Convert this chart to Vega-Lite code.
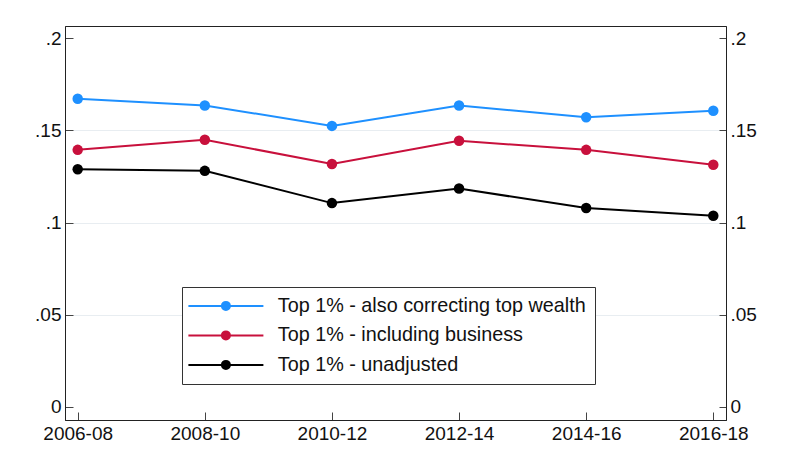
{
  "$schema": "https://vega.github.io/schema/vega-lite/v6.json",
  "width": 661,
  "height": 394,
  "autosize": "none",
  "padding": {"left": 65, "top": 26, "right": 67, "bottom": 32},
  "background": "white",
  "data": {
    "values": [
      {"period": "2006-08", "series": "Top 1% - also correcting top wealth", "share": 0.1672},
      {"period": "2008-10", "series": "Top 1% - also correcting top wealth", "share": 0.1636},
      {"period": "2010-12", "series": "Top 1% - also correcting top wealth", "share": 0.1525},
      {"period": "2012-14", "series": "Top 1% - also correcting top wealth", "share": 0.1636},
      {"period": "2014-16", "series": "Top 1% - also correcting top wealth", "share": 0.1572},
      {"period": "2016-18", "series": "Top 1% - also correcting top wealth", "share": 0.1607},
      {"period": "2006-08", "series": "Top 1% - including business", "share": 0.1395},
      {"period": "2008-10", "series": "Top 1% - including business", "share": 0.1450},
      {"period": "2010-12", "series": "Top 1% - including business", "share": 0.1318},
      {"period": "2012-14", "series": "Top 1% - including business", "share": 0.1444},
      {"period": "2014-16", "series": "Top 1% - including business", "share": 0.1395},
      {"period": "2016-18", "series": "Top 1% - including business", "share": 0.1314},
      {"period": "2006-08", "series": "Top 1% - unadjusted", "share": 0.1290},
      {"period": "2008-10", "series": "Top 1% - unadjusted", "share": 0.1281},
      {"period": "2010-12", "series": "Top 1% - unadjusted", "share": 0.1106},
      {"period": "2012-14", "series": "Top 1% - unadjusted", "share": 0.1185},
      {"period": "2014-16", "series": "Top 1% - unadjusted", "share": 0.1079},
      {"period": "2016-18", "series": "Top 1% - unadjusted", "share": 0.1037}
    ]
  },
  "layer": [
    {
      "mark": {"type": "line", "strokeWidth": 2, "point": {"filled": true, "size": 110, "opacity": 1}},
      "encoding": {
        "x": {
          "field": "period", "type": "ordinal", "title": null,
          "scale": {"type": "point", "padding": 0.1},
          "axis": {"labelAngle": 0, "tickSize": -8, "labelPadding": 12, "grid": false}
        },
        "y": {
          "field": "share", "type": "quantitative", "title": null,
          "scale": {"domain": [-0.0071, 0.2067], "nice": false, "zero": false},
          "axis": {
            "orient": "left", "values": [0, 0.05, 0.1, 0.15, 0.2],
            "labelExpr": "datum.value == 0 ? '0' : substring(format(datum.value, '~g'), 1)",
            "tickSize": -8, "labelPadding": 12, "grid": true,
            "gridOpacity": {"condition": {"test": "datum.value === 0 || datum.value === 0.2", "value": 0}, "value": 1}
          }
        },
        "color": {
          "field": "series", "type": "nominal", "title": null,
          "scale": {
            "domain": ["Top 1% - also correcting top wealth", "Top 1% - including business", "Top 1% - unadjusted"],
            "range": ["#1e90ff", "#c8103c", "#000000"]
          },
          "legend": {
            "orient": "none", "legendX": 117, "legendY": 261,
            "symbolType": "M-7.5,0L7.5,0M0.8,0A0.8,0.8,0,1,1,-0.8,0A0.8,0.8,0,1,1,0.8,0Z",
            "symbolSize": 100, "symbolStrokeWidth": 2, "symbolOffset": 25,
            "labelOffset": 42, "rowPadding": 8.5, "padding": 9,
            "labelExpr": "datum.label + '\u2003'",
            "fillColor": "white", "strokeColor": "#333333",
            "encode": {
              "symbols": {"update": {"fill": {"scale": "color", "field": "value"}, "stroke": {"scale": "color", "field": "value"}, "opacity": {"value": 1}}}
            }
          }
        }
      }
    },
    {
      "mark": {"type": "line", "strokeOpacity": 0},
      "encoding": {
        "x": {"field": "period", "type": "ordinal", "title": null, "scale": {"type": "point", "padding": 0.1}},
        "y": {
          "field": "share", "type": "quantitative", "title": null,
          "scale": {"domain": [-0.0071, 0.2067], "nice": false, "zero": false},
          "axis": {
            "orient": "right", "values": [0, 0.05, 0.1, 0.15, 0.2],
            "labelExpr": "datum.value == 0 ? '0' : substring(format(datum.value, '~g'), 1)",
            "tickSize": -7, "labelPadding": 11, "grid": false
          }
        },
        "detail": {"field": "series"}
      }
    }
  ],
  "resolve": {"scale": {"y": "independent"}},
  "config": {
    "font": "Liberation Sans",
    "view": {"stroke": "#222222", "strokeWidth": 1},
    "axis": {
      "domainColor": "#222222", "tickColor": "#444444", "labelColor": "#111111",
      "labelFontSize": 19, "labelFont": "Liberation Sans", "gridColor": "#e8edf1", "gridWidth": 1.2
    },
    "legend": {"labelFontSize": 19.8, "labelFont": "Liberation Sans", "labelColor": "#111111", "labelLimit": 0}
  }
}
